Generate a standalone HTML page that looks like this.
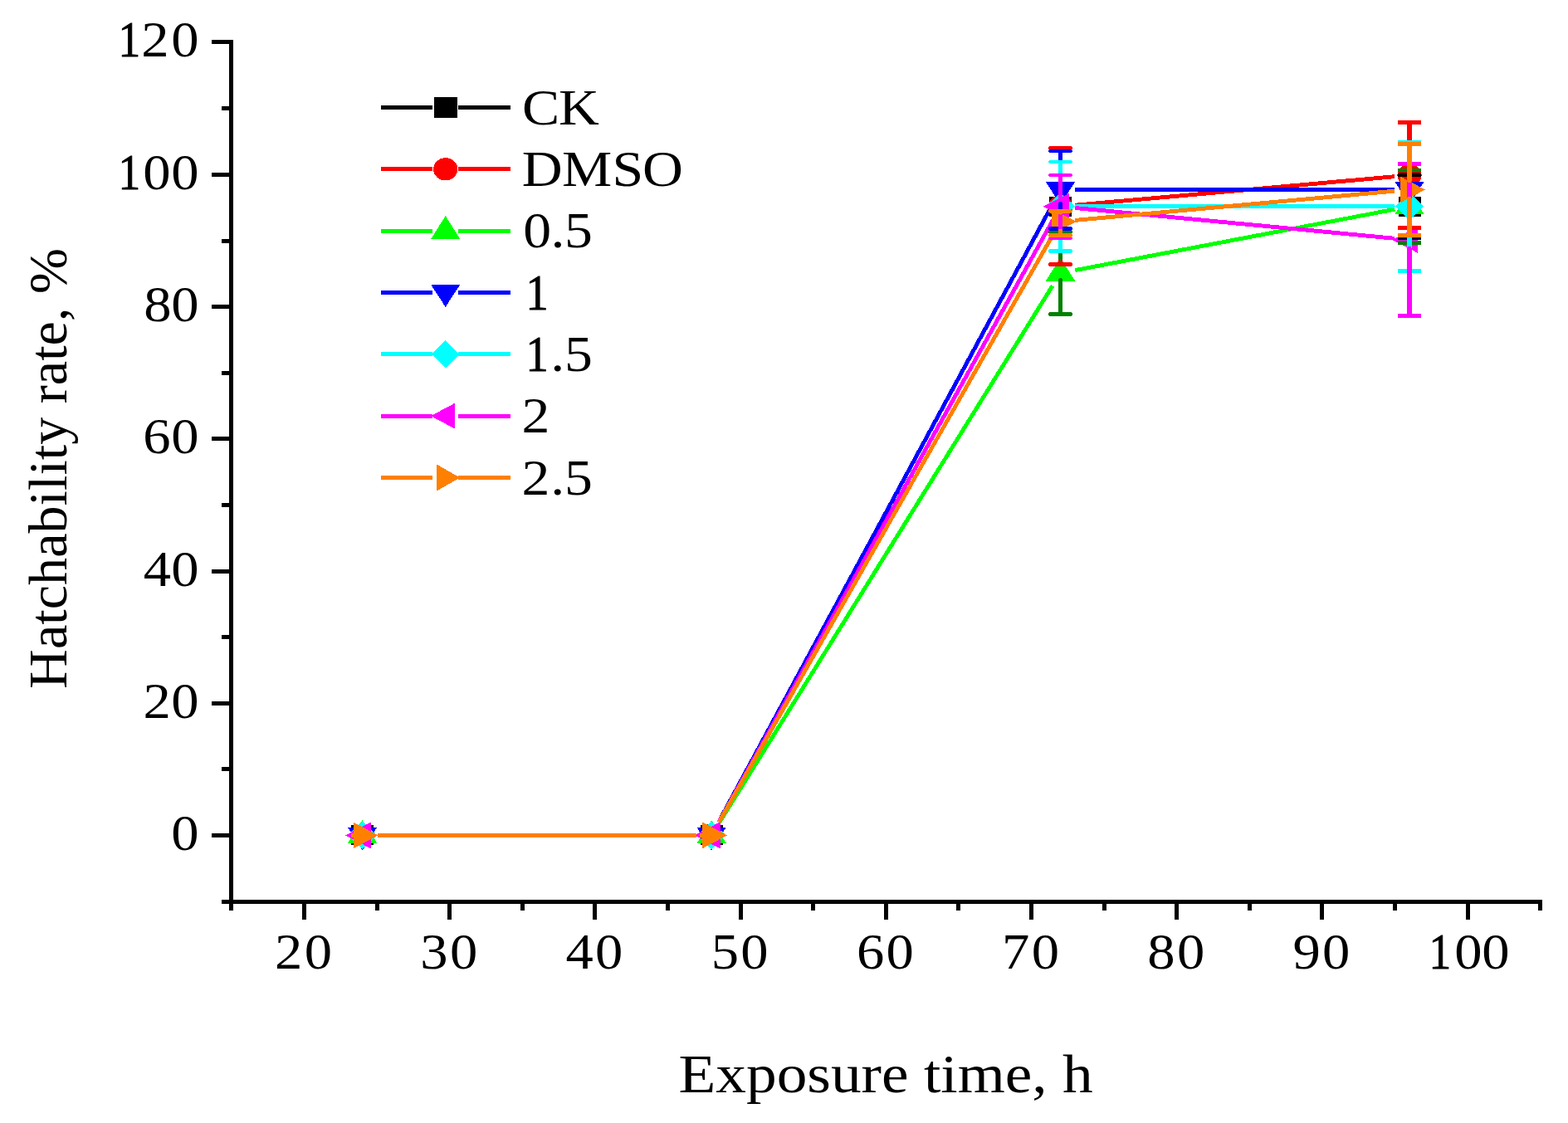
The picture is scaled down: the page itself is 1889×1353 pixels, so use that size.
<!DOCTYPE html>
<html><head><meta charset="utf-8"><title>Hatchability rate vs exposure time</title>
<style>html,body{margin:0;padding:0;background:#fff;}svg{display:block;}</style></head>
<body><svg shape-rendering="crispEdges" width="1889" height="1353" viewBox="0 0 1889 1353">
<rect width="1889" height="1353" fill="#fff"/>
<g fill="#000">
<rect x="275.95" y="48.0" width="4.9" height="1049.00"/>
<rect x="267.1" y="1083.85" width="1590.70" height="4.9"/>
<rect x="267.1" y="1084" width="11.30" height="5"/>
<rect x="255.0" y="1004" width="23.40" height="5"/>
<rect x="267.1" y="924" width="11.30" height="5"/>
<rect x="255.0" y="845" width="23.40" height="5"/>
<rect x="267.1" y="765" width="11.30" height="5"/>
<rect x="255.0" y="686" width="23.40" height="5"/>
<rect x="267.1" y="606" width="11.30" height="5"/>
<rect x="255.0" y="526" width="23.40" height="5"/>
<rect x="267.1" y="447" width="11.30" height="5"/>
<rect x="255.0" y="367" width="23.40" height="5"/>
<rect x="267.1" y="288" width="11.30" height="5"/>
<rect x="255.0" y="208" width="23.40" height="5"/>
<rect x="267.1" y="128" width="11.30" height="5"/>
<rect x="255.0" y="48.0" width="23.40" height="5"/>
<rect x="276.45" y="1086.30" width="4.9" height="10.70"/>
<rect x="364.05" y="1086.30" width="4.9" height="21.60"/>
<rect x="451.65" y="1086.30" width="4.9" height="10.70"/>
<rect x="539.25" y="1086.30" width="4.9" height="21.60"/>
<rect x="626.85" y="1086.30" width="4.9" height="10.70"/>
<rect x="714.45" y="1086.30" width="4.9" height="21.60"/>
<rect x="802.05" y="1086.30" width="4.9" height="10.70"/>
<rect x="889.65" y="1086.30" width="4.9" height="21.60"/>
<rect x="977.25" y="1086.30" width="4.9" height="10.70"/>
<rect x="1064.85" y="1086.30" width="4.9" height="21.60"/>
<rect x="1152.45" y="1086.30" width="4.9" height="10.70"/>
<rect x="1240.05" y="1086.30" width="4.9" height="21.60"/>
<rect x="1327.65" y="1086.30" width="4.9" height="10.70"/>
<rect x="1415.25" y="1086.30" width="4.9" height="21.60"/>
<rect x="1502.85" y="1086.30" width="4.9" height="10.70"/>
<rect x="1590.45" y="1086.30" width="4.9" height="21.60"/>
<rect x="1678.05" y="1086.30" width="4.9" height="10.70"/>
<rect x="1765.65" y="1086.30" width="4.9" height="21.60"/>
<rect x="1853.25" y="1086.30" width="4.9" height="10.70"/>
</g>
<text transform="scale(1.104,1)" y="68.46" style="font-family:'Liberation Serif','Times New Roman',serif;font-size:60.4px" ><tspan x="129.13" textLength="24.16" lengthAdjust="spacingAndGlyphs" stroke="#000" stroke-width="0.9">1</tspan><tspan x="154.23 186.84">20</tspan></text>
<text transform="scale(1.104,1)" y="227.80" style="font-family:'Liberation Serif','Times New Roman',serif;font-size:60.4px" ><tspan x="129.13" textLength="24.16" lengthAdjust="spacingAndGlyphs" stroke="#000" stroke-width="0.9">1</tspan><tspan x="156.04 186.84">00</tspan></text>
<text transform="scale(1.104,1)" y="387.14" style="font-family:'Liberation Serif','Times New Roman',serif;font-size:60.4px" ><tspan x="157.03 186.84">80</tspan></text>
<text transform="scale(1.104,1)" y="546.48" style="font-family:'Liberation Serif','Times New Roman',serif;font-size:60.4px" ><tspan x="156.10 186.84">60</tspan></text>
<text transform="scale(1.104,1)" y="705.82" style="font-family:'Liberation Serif','Times New Roman',serif;font-size:60.4px" ><tspan x="156.40 186.84">40</tspan></text>
<text transform="scale(1.104,1)" y="865.16" style="font-family:'Liberation Serif','Times New Roman',serif;font-size:60.4px" ><tspan x="156.31 186.84">20</tspan></text>
<text transform="scale(1.104,1)" y="1024.50" style="font-family:'Liberation Serif','Times New Roman',serif;font-size:60.4px" ><tspan x="186.84">0</tspan></text>
<text transform="scale(1.104,1)" y="1167.30" style="font-family:'Liberation Serif','Times New Roman',serif;font-size:60.4px" ><tspan x="299.91 332.16">20</tspan></text>
<text transform="scale(1.104,1)" y="1167.30" style="font-family:'Liberation Serif','Times New Roman',serif;font-size:60.4px" ><tspan x="458.61 490.85">30</tspan></text>
<text transform="scale(1.104,1)" y="1167.30" style="font-family:'Liberation Serif','Times New Roman',serif;font-size:60.4px" ><tspan x="617.30 649.55">40</tspan></text>
<text transform="scale(1.104,1)" y="1167.30" style="font-family:'Liberation Serif','Times New Roman',serif;font-size:60.4px" ><tspan x="776.00 808.24">50</tspan></text>
<text transform="scale(1.104,1)" y="1167.30" style="font-family:'Liberation Serif','Times New Roman',serif;font-size:60.4px" ><tspan x="934.69 966.94">60</tspan></text>
<text transform="scale(1.104,1)" y="1167.30" style="font-family:'Liberation Serif','Times New Roman',serif;font-size:60.4px" ><tspan x="1093.39 1125.63">70</tspan></text>
<text transform="scale(1.104,1)" y="1167.30" style="font-family:'Liberation Serif','Times New Roman',serif;font-size:60.4px" ><tspan x="1252.08 1284.33">80</tspan></text>
<text transform="scale(1.104,1)" y="1167.30" style="font-family:'Liberation Serif','Times New Roman',serif;font-size:60.4px" ><tspan x="1410.78 1443.03">90</tspan></text>
<text transform="scale(1.104,1)" y="1167.30" style="font-family:'Liberation Serif','Times New Roman',serif;font-size:60.4px" ><tspan x="1559.38" textLength="24.16" lengthAdjust="spacingAndGlyphs" stroke="#000" stroke-width="0.9">1</tspan><tspan x="1587.29 1617.18">00</tspan></text>
<text transform="translate(817.5,1316.2) scale(1.115,1)" x="0" y="0" style="font-family:'Liberation Serif','Times New Roman',serif;font-size:65.8px">Exposure time, h</text>
<text transform="translate(80,829.9) rotate(-90)" x="0" y="0" style="font-family:'Liberation Serif','Times New Roman',serif;font-size:66.2px">Hatchability rate, %</text>
<line x1="865.83" y1="990.66" x2="1268.77" y2="264.54" stroke="#000000" stroke-width="4.9"/>
<line x1="1295.50" y1="248.79" x2="1680.00" y2="248.51" stroke="#000000" stroke-width="4.9"/>
<rect x="423.10" y="994.40" width="27" height="24" fill="#000000"/>
<rect x="843.60" y="994.40" width="27" height="24" fill="#000000"/>
<rect x="1264.00" y="236.80" width="27" height="24" fill="#000000"/>
<rect x="1684.50" y="236.50" width="27" height="24" fill="#000000"/>
<line x1="865.83" y1="990.66" x2="1268.77" y2="264.54" stroke="#ff0000" stroke-width="4.9"/>
<line x1="1295.43" y1="247.19" x2="1680.07" y2="212.71" stroke="#ff0000" stroke-width="4.9"/>
<ellipse cx="436.60" cy="1006.40" rx="14.6" ry="13.6" fill="#ff0000"/>
<ellipse cx="857.10" cy="1006.40" rx="14.6" ry="13.6" fill="#ff0000"/>
<ellipse cx="1277.50" cy="248.80" rx="14.6" ry="13.6" fill="#ff0000"/>
<ellipse cx="1698.00" cy="211.10" rx="14.6" ry="13.6" fill="#ff0000"/>
<line x1="866.59" y1="991.11" x2="1268.01" y2="344.29" stroke="#00ff00" stroke-width="4.9"/>
<line x1="1295.18" y1="325.63" x2="1680.32" y2="252.17" stroke="#00ff00" stroke-width="4.9"/>
<polygon points="436.60,988.10 454.40,1016.00 418.80,1016.00" fill="#00ff00"/>
<polygon points="857.10,988.10 874.90,1016.00 839.30,1016.00" fill="#00ff00"/>
<polygon points="1277.50,310.70 1295.30,338.60 1259.70,338.60" fill="#00ff00"/>
<polygon points="1698.00,230.50 1715.80,258.40 1680.20,258.40" fill="#00ff00"/>
<line x1="865.66" y1="990.57" x2="1268.94" y2="244.43" stroke="#0000ff" stroke-width="4.9"/>
<line x1="1295.50" y1="228.60" x2="1680.00" y2="228.50" stroke="#0000ff" stroke-width="4.9"/>
<polygon points="418.80,996.50 454.40,996.50 436.60,1024.60" fill="#0000ff"/>
<polygon points="839.30,996.50 874.90,996.50 857.10,1024.60" fill="#0000ff"/>
<polygon points="1259.70,218.70 1295.30,218.70 1277.50,246.80" fill="#0000ff"/>
<polygon points="1680.20,218.60 1715.80,218.60 1698.00,246.70" fill="#0000ff"/>
<line x1="865.83" y1="990.66" x2="1268.77" y2="264.54" stroke="#00ffff" stroke-width="4.9"/>
<line x1="1295.50" y1="248.79" x2="1680.00" y2="248.51" stroke="#00ffff" stroke-width="4.9"/>
<polygon points="436.60,989.50 454.10,1006.40 436.60,1023.30 419.10,1006.40" fill="#00ffff"/>
<polygon points="857.10,989.50 874.60,1006.40 857.10,1023.30 839.60,1006.40" fill="#00ffff"/>
<polygon points="1277.50,231.90 1295.00,248.80 1277.50,265.70 1260.00,248.80" fill="#00ffff"/>
<polygon points="1698.00,231.60 1715.50,248.50 1698.00,265.40 1680.50,248.50" fill="#00ffff"/>
<line x1="865.83" y1="990.66" x2="1268.77" y2="264.54" stroke="#ff00ff" stroke-width="4.9"/>
<line x1="1295.42" y1="250.51" x2="1680.08" y2="287.29" stroke="#ff00ff" stroke-width="4.9"/>
<polygon points="416.00,1006.40 447.00,990.40 447.00,1022.40" fill="#ff00ff"/>
<polygon points="836.50,1006.40 867.50,990.40 867.50,1022.40" fill="#ff00ff"/>
<polygon points="1256.90,248.80 1287.90,232.80 1287.90,264.80" fill="#ff00ff"/>
<polygon points="1677.40,289.00 1708.40,273.00 1708.40,305.00" fill="#ff00ff"/>
<line x1="454.60" y1="1006.40" x2="839.10" y2="1006.40" stroke="#ff8000" stroke-width="4.9"/>
<line x1="866.00" y1="990.75" x2="1268.60" y2="282.65" stroke="#ff8000" stroke-width="4.9"/>
<line x1="1295.43" y1="265.36" x2="1680.07" y2="230.14" stroke="#ff8000" stroke-width="4.9"/>
<polygon points="425.60,990.50 455.60,1006.40 425.60,1022.30" fill="#ff8000"/>
<polygon points="846.10,990.50 876.10,1006.40 846.10,1022.30" fill="#ff8000"/>
<polygon points="1266.50,251.10 1296.50,267.00 1266.50,282.90" fill="#ff8000"/>
<polygon points="1687.00,212.60 1717.00,228.50 1687.00,244.40" fill="#ff8000"/>
<rect x="1695.35" y="210.80" width="5.3" height="28.70" rx="2.65" fill="#000000"/>
<rect x="1695.35" y="257.50" width="5.3" height="28.90" rx="2.65" fill="#000000"/>
<rect x="1683.95" y="208.35" width="28.1" height="4.9" rx="1.2" fill="#000000"/>
<rect x="1683.95" y="283.95" width="28.1" height="4.9" rx="1.2" fill="#000000"/>
<rect x="1274.85" y="178.50" width="5.3" height="59.80" rx="2.65" fill="#ff0000"/>
<rect x="1274.85" y="259.30" width="5.3" height="59.10" rx="2.65" fill="#ff0000"/>
<rect x="1263.45" y="176.05" width="28.1" height="4.9" rx="1.2" fill="#ff0000"/>
<rect x="1263.45" y="315.95" width="28.1" height="4.9" rx="1.2" fill="#ff0000"/>
<rect x="1695.35" y="147.60" width="5.3" height="53.00" rx="2.65" fill="#ff0000"/>
<rect x="1695.35" y="221.60" width="5.3" height="53.00" rx="2.65" fill="#ff0000"/>
<rect x="1683.95" y="145.15" width="28.1" height="4.9" rx="1.2" fill="#ff0000"/>
<rect x="1683.95" y="272.15" width="28.1" height="4.9" rx="1.2" fill="#ff0000"/>
<rect x="1274.85" y="279.50" width="5.3" height="34.50" rx="2.65" fill="#008000"/>
<rect x="1274.85" y="335.20" width="5.3" height="43.30" rx="2.65" fill="#008000"/>
<rect x="1263.45" y="277.05" width="28.1" height="4.9" rx="1.2" fill="#008000"/>
<rect x="1263.45" y="376.05" width="28.1" height="4.9" rx="1.2" fill="#008000"/>
<rect x="1695.35" y="205.00" width="5.3" height="28.80" rx="2.65" fill="#008000"/>
<rect x="1695.35" y="255.00" width="5.3" height="37.60" rx="2.65" fill="#008000"/>
<rect x="1683.95" y="202.55" width="28.1" height="4.9" rx="1.2" fill="#008000"/>
<rect x="1683.95" y="290.15" width="28.1" height="4.9" rx="1.2" fill="#008000"/>
<rect x="1274.85" y="182.00" width="5.3" height="40.40" rx="2.65" fill="#0000ff"/>
<rect x="1274.85" y="243.10" width="5.3" height="32.40" rx="2.65" fill="#0000ff"/>
<rect x="1263.45" y="179.55" width="28.1" height="4.9" rx="1.2" fill="#0000ff"/>
<rect x="1263.45" y="273.05" width="28.1" height="4.9" rx="1.2" fill="#0000ff"/>
<rect x="1695.35" y="172.60" width="5.3" height="49.70" rx="2.65" fill="#0000ff"/>
<rect x="1695.35" y="243.00" width="5.3" height="41.40" rx="2.65" fill="#0000ff"/>
<rect x="1683.95" y="170.15" width="28.1" height="4.9" rx="1.2" fill="#0000ff"/>
<rect x="1683.95" y="281.95" width="28.1" height="4.9" rx="1.2" fill="#0000ff"/>
<rect x="1274.85" y="195.00" width="5.3" height="40.80" rx="2.65" fill="#00ffff"/>
<rect x="1274.85" y="261.80" width="5.3" height="40.60" rx="2.65" fill="#00ffff"/>
<rect x="1263.45" y="192.55" width="28.1" height="4.9" rx="1.2" fill="#00ffff"/>
<rect x="1263.45" y="299.95" width="28.1" height="4.9" rx="1.2" fill="#00ffff"/>
<rect x="1695.35" y="171.20" width="5.3" height="64.30" rx="2.65" fill="#00ffff"/>
<rect x="1695.35" y="261.50" width="5.3" height="64.90" rx="2.65" fill="#00ffff"/>
<rect x="1683.95" y="168.75" width="28.1" height="4.9" rx="1.2" fill="#00ffff"/>
<rect x="1683.95" y="323.95" width="28.1" height="4.9" rx="1.2" fill="#00ffff"/>
<rect x="1274.85" y="211.00" width="5.3" height="29.80" rx="2.65" fill="#ff00ff"/>
<rect x="1274.85" y="256.80" width="5.3" height="30.20" rx="2.65" fill="#ff00ff"/>
<rect x="1263.45" y="208.55" width="28.1" height="4.9" rx="1.2" fill="#ff00ff"/>
<rect x="1263.45" y="284.55" width="28.1" height="4.9" rx="1.2" fill="#ff00ff"/>
<rect x="1695.35" y="197.40" width="5.3" height="83.60" rx="2.65" fill="#ff00ff"/>
<rect x="1695.35" y="297.00" width="5.3" height="83.50" rx="2.65" fill="#ff00ff"/>
<rect x="1683.95" y="194.95" width="28.1" height="4.9" rx="1.2" fill="#ff00ff"/>
<rect x="1683.95" y="378.05" width="28.1" height="4.9" rx="1.2" fill="#ff00ff"/>
<rect x="1274.85" y="254.10" width="5.3" height="4.40" rx="2.65" fill="#ff8000"/>
<rect x="1274.85" y="275.50" width="5.3" height="7.90" rx="2.65" fill="#ff8000"/>
<rect x="1263.45" y="251.65" width="28.1" height="4.9" rx="1.2" fill="#ff8000"/>
<rect x="1263.45" y="280.95" width="28.1" height="4.9" rx="1.2" fill="#ff8000"/>
<rect x="1695.35" y="173.50" width="5.3" height="46.50" rx="2.65" fill="#ff8000"/>
<rect x="1695.35" y="237.00" width="5.3" height="46.50" rx="2.65" fill="#ff8000"/>
<rect x="1683.95" y="171.05" width="28.1" height="4.9" rx="1.2" fill="#ff8000"/>
<rect x="1683.95" y="281.05" width="28.1" height="4.9" rx="1.2" fill="#ff8000"/>
<rect x="422.55" y="1003.95" width="28.1" height="4.9" rx="1.2" fill="#ff8000"/>
<rect x="843.05" y="1003.95" width="28.1" height="4.9" rx="1.2" fill="#ff8000"/>
<rect x="459" y="127.00" width="61.90" height="5" fill="#000000"/>
<rect x="552.1" y="127.00" width="62.90" height="5" fill="#000000"/>
<rect x="522.60" y="117.00" width="28.2" height="25" fill="#000000"/>
<rect x="459" y="201.33" width="61.90" height="5" fill="#ff0000"/>
<rect x="552.1" y="201.33" width="62.90" height="5" fill="#ff0000"/>
<ellipse cx="536.70" cy="203.83" rx="14.6" ry="13.6" fill="#ff0000"/>
<rect x="459" y="275.66" width="61.90" height="5" fill="#00ff00"/>
<rect x="552.1" y="275.66" width="62.90" height="5" fill="#00ff00"/>
<polygon points="536.70,260.06 554.30,288.06 519.10,288.06" fill="#00ff00"/>
<rect x="459" y="349.99" width="61.90" height="5" fill="#0000ff"/>
<rect x="552.1" y="349.99" width="62.90" height="5" fill="#0000ff"/>
<polygon points="519.10,342.89 554.30,342.89 536.70,369.89" fill="#0000ff"/>
<rect x="459" y="424.32" width="61.90" height="5" fill="#00ffff"/>
<rect x="552.1" y="424.32" width="62.90" height="5" fill="#00ffff"/>
<polygon points="536.70,410.07 553.25,426.82 536.70,443.57 520.15,426.82" fill="#00ffff"/>
<rect x="459" y="498.65" width="61.90" height="5" fill="#ff00ff"/>
<rect x="552.1" y="498.65" width="62.90" height="5" fill="#ff00ff"/>
<polygon points="519.10,501.15 548.00,485.65 548.00,516.65" fill="#ff00ff"/>
<rect x="459" y="572.98" width="61.90" height="5" fill="#ff8000"/>
<rect x="552.1" y="572.98" width="62.90" height="5" fill="#ff8000"/>
<polygon points="526.40,559.58 554.20,575.48 526.40,591.38" fill="#ff8000"/>
<text transform="scale(1.122,1)" y="149.70" style="font-family:'Liberation Serif','Times New Roman',serif;font-size:60.4px" ><tspan x="560.54 599.85">CK</tspan></text>
<text transform="scale(1.122,1)" y="224.03" style="font-family:'Liberation Serif','Times New Roman',serif;font-size:60.4px" ><tspan x="560.46 603.33 657.27 689.86">DMSO</tspan></text>
<text transform="scale(1.122,1)" y="298.36" style="font-family:'Liberation Serif','Times New Roman',serif;font-size:60.4px" ><tspan x="561.70 591.38 606.03">0.5</tspan></text>
<text transform="scale(1.122,1)" y="372.69" style="font-family:'Liberation Serif','Times New Roman',serif;font-size:60.4px" ><tspan x="564.60" textLength="24.16" lengthAdjust="spacingAndGlyphs" stroke="#000" stroke-width="0.9">1</tspan></text>
<text transform="scale(1.122,1)" y="447.02" style="font-family:'Liberation Serif','Times New Roman',serif;font-size:60.4px" ><tspan x="564.60" textLength="24.16" lengthAdjust="spacingAndGlyphs" stroke="#000" stroke-width="0.9">1</tspan><tspan x="591.20 606.03">.5</tspan></text>
<text transform="scale(1.122,1)" y="521.35" style="font-family:'Liberation Serif','Times New Roman',serif;font-size:60.4px" ><tspan x="560.18">2</tspan></text>
<text transform="scale(1.122,1)" y="595.68" style="font-family:'Liberation Serif','Times New Roman',serif;font-size:60.4px" ><tspan x="560.18 591.20 606.03">2.5</tspan></text>
</svg></body></html>
